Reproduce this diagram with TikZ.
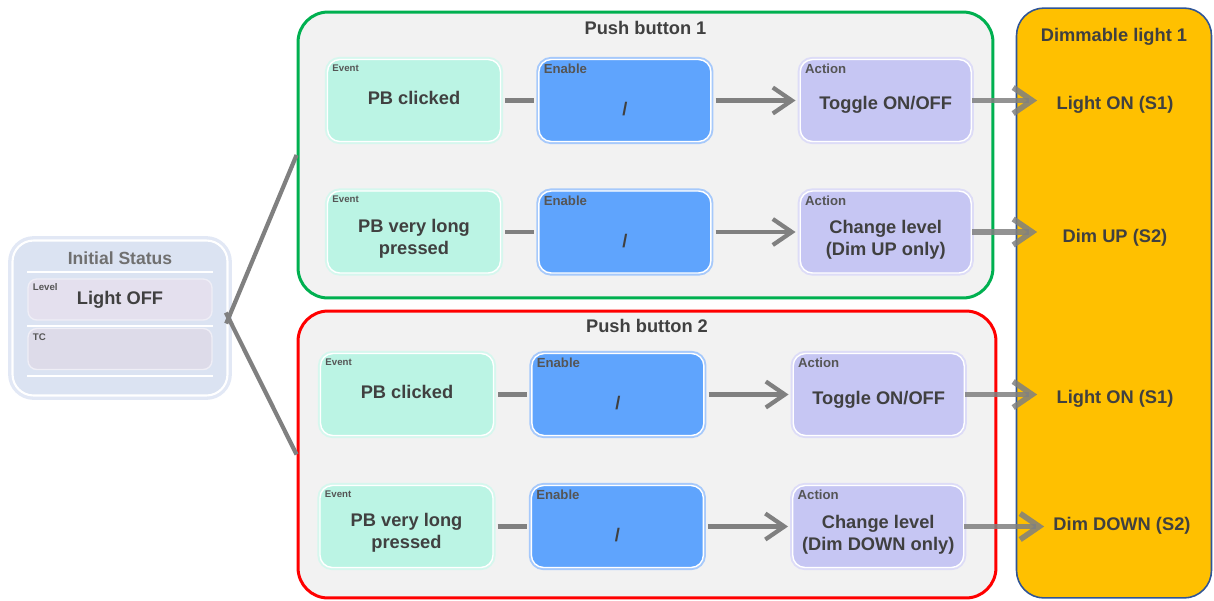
\documentclass[tikz,border=0pt]{standalone}
\usepackage{fontspec}
\setmainfont{Liberation Sans}
\usepackage{xcolor}
\usepackage{tikz}
\usetikzlibrary{arrows.meta, positioning}

\definecolor{txt}{HTML}{404040}
\definecolor{tagtxt}{HTML}{555555}
\definecolor{titlegrey}{HTML}{707070}
\definecolor{evfill}{HTML}{BBF4E4}
\definecolor{evedge}{HTML}{D6F7EE}
\definecolor{enfill}{HTML}{5FA4FD}
\definecolor{enedge}{HTML}{A6C9FB}
\definecolor{acfill}{HTML}{C6C6F3}
\definecolor{acedge}{HTML}{DDDCF7}
\definecolor{framefill}{HTML}{F2F2F2}
\definecolor{pbgreen}{HTML}{00B050}
\definecolor{pbred}{HTML}{FF0000}
\definecolor{lightorange}{HTML}{FFC000}
\definecolor{panelblue}{HTML}{2F5597}
\definecolor{linkgrey}{HTML}{808080}
\definecolor{initfill}{HTML}{DBE3F2}
\definecolor{initedge}{HTML}{E2E8F5}
\definecolor{lvlfill}{HTML}{E4E0EE}
\definecolor{tcfill}{HTML}{DDDBE9}
\definecolor{lvledge}{HTML}{EFEEF6}

% text lowered inside a box, box size untouched
\newcommand{\lowtext}[2]{\raisebox{#1}[0pt][0pt]{\begin{tabular}{@{}c@{}}#2\end{tabular}}}

\begin{document}
\begin{tikzpicture}[
    x=0.02cm, y=-0.02cm,
    font=\fontsize{10.4}{12.5}\selectfont\bfseries,
    text=txt,
    tag/.style={font=\fontsize{5.5}{6}\selectfont\bfseries, text=tagtxt, inner sep=3pt},
    bigtag/.style={tag, font=\fontsize{7.5}{8}\selectfont\bfseries},
    box/.style={draw=white, line width=0.8pt, rounded corners=7pt, minimum height=1.64cm, align=center},
    evbox/.style={box, fill=evfill, preaction={draw=evedge, line width=3pt}, minimum width=3.46cm, label={[tag, anchor=north west]north west:Event}},
    enbox/.style={box, fill=enfill, preaction={draw=enedge, line width=3pt}, minimum width=3.44cm, label={[bigtag, anchor=north west]north west:Enable}},
    acbox/.style={box, fill=acfill, preaction={draw=acedge, line width=3pt}, minimum width=3.42cm, label={[bigtag, anchor=north west]north west:Action}},
    pbframe/.style={line width=1.7pt, fill=framefill, rounded corners=0.6cm, minimum width=13.9cm, minimum height=5.72cm},
    panel/.style={draw=panelblue, line width=0.9pt, fill=lightorange, rounded corners=0.55cm, minimum width=3.9cm, minimum height=11.8cm},
    state/.style={minimum width=3.1cm},
    initbox/.style={draw=white, line width=1.2pt, fill=initfill, preaction={draw=initedge, line width=5pt}, rounded corners=12pt, minimum width=4.3cm, minimum height=3.1cm},
    subbox/.style={draw=lvledge, line width=0.8pt, rounded corners=5pt, minimum width=3.68cm, minimum height=0.82cm},
    sep/.style={draw=white, line width=1pt},
    link/.style={draw=linkgrey, line width=2.4pt, shorten <=0.08cm, shorten >=0.08cm},
    arrow/.style={link, -{Straight Barb[length=3.8mm, width=5.2mm]}},
    outarrow/.style={draw=linkgrey, line width=3.2pt, opacity=0.85, -{Straight Barb[length=3.8mm, width=5.2mm]}}
]
    \useasboundingbox (0,0) rectangle (1214,600);

    % Containers
    \node[pbframe, draw=pbgreen] (pb1) at (645.5,155) {};
    \node[below=0.1cm of pb1.north] (pb1t) {Push button 1};
    \node[pbframe, draw=pbred, minimum width=13.96cm, minimum height=5.74cm] (pb2) at (647,454.5) {};
    \node[below=0.08cm of pb2.north] (pb2t) {Push button 2};
    \node[panel] (light) at (1114,303) {};
    \node[below=0.3cm of light.north] (lightt) {Dimmable light 1};

    % Initial status
    \node[initbox] (init) at (120,318) {};
    \node[subbox, fill=lvlfill, label={[tag, anchor=north west]north west:Level}] (lvl) at (120,299.5) {Light OFF};
    \node[subbox, fill=tcfill, label={[tag, anchor=north west]north west:TC}] (tc) at (120,349) {};
    \node[above=0.14cm of lvl, text=titlegrey, font=\fontsize{10}{12}\selectfont\bfseries] (inittitle) {Initial Status};
    \draw[sep] ([yshift=0.12cm]lvl.north west) -- ([yshift=0.12cm]lvl.north east);
    \draw[sep] ([yshift=-0.1cm]lvl.south west) -- ([yshift=-0.1cm]lvl.south east);
    \draw[sep] ([yshift=-0.12cm]tc.south west) -- ([yshift=-0.12cm]tc.south east);

    % Push button 1
    \node[evbox] (ev11) at (414,100.5) {\lowtext{-2.5pt}{PB clicked}};
    \node[enbox, right=0.74cm of ev11] (en11) {\lowtext{-8.6pt}{/}};
    \node[acbox, right=1.76cm of en11] (ac11) {\lowtext{-5.4pt}{Toggle ON/OFF}};
    \node[evbox] (ev12) at (414,232) {\lowtext{-6.4pt}{PB very long\\pressed}};
    \node[enbox, right=0.74cm of ev12] (en12) {\lowtext{-8.6pt}{/}};
    \node[acbox, right=1.76cm of en12] (ac12) {\lowtext{-7.2pt}{Change level\\(Dim UP only)}};

    % Push button 2
    \node[evbox] (ev21) at (407,394.5) {\lowtext{-2.5pt}{PB clicked}};
    \node[enbox, right=0.74cm of ev21] (en21) {\lowtext{-8.6pt}{/}};
    \node[acbox, right=1.76cm of en21] (ac21) {\lowtext{-5.4pt}{Toggle ON/OFF}};
    \node[evbox] (ev22) at (406.5,526.5) {\lowtext{-6.4pt}{PB very long\\pressed}};
    \node[enbox, right=0.74cm of ev22] (en22) {\lowtext{-8.6pt}{/}};
    \node[acbox, right=1.76cm of en22] (ac22) {\lowtext{-7.2pt}{Change level\\(Dim DOWN only)}};

    % Light states
    \node[state] (s11) at (1115,100.5) {\lowtext{-5.1pt}{Light ON (S1)}};
    \node[state] (s12) at (1115,232) {\lowtext{-6pt}{Dim UP (S2)}};
    \node[state] (s21) at (1115,394.5) {\lowtext{-5.1pt}{Light ON (S1)}};
    \node[state] (s22) at (1122,526.5) {\lowtext{-2.3pt}{Dim DOWN (S2)}};

    % Connections
    \draw[link, shorten <=-0.12cm, shorten >=0pt] (init.east) -- (pb1.west);
    \draw[link, shorten <=-0.12cm, shorten >=0pt] (init.east) -- (pb2.west);
    \draw[link] (ev11) -- (en11); \draw[link] (ev12) -- (en12);
    \draw[link] (ev21) -- (en21); \draw[link] (ev22) -- (en22);
    \draw[arrow] (en11) -- (ac11); \draw[arrow] (en12) -- (ac12);
    \draw[arrow] (en21) -- (ac21); \draw[arrow] (en22) -- (ac22);
    \draw[outarrow] (ac11) -- (s11); \draw[outarrow] (ac12) -- (s12);
    \draw[outarrow] (ac21) -- (s21); \draw[outarrow] (ac22) -- (s22);
\end{tikzpicture}
\end{document}
